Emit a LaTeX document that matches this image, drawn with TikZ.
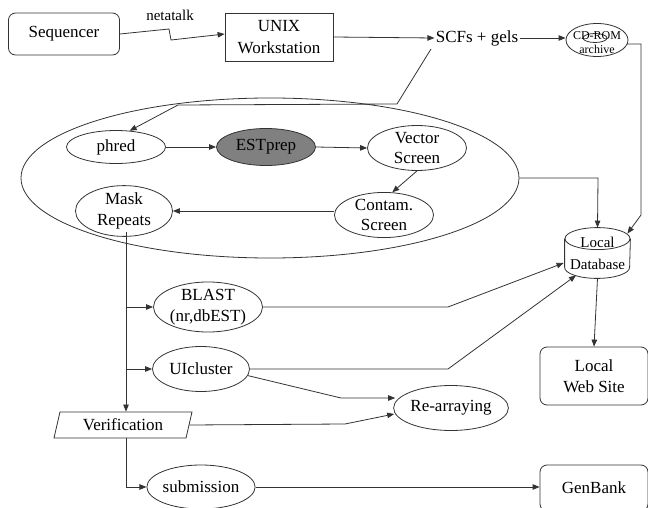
\documentclass[tikz,border=0pt]{standalone}
\usepackage{fontspec}
\setmainfont{Liberation Serif}
\usetikzlibrary{shapes.geometric,arrows.meta,calc}
\begin{document}
\begin{tikzpicture}[x=1pt,y=-1pt,
  font=\fontsize{17}{20.5}\selectfont,
  line width=0.8pt,
  color=black!80, text=black,
  box/.style={draw, rectangle, inner sep=0pt, align=center},
  rbox/.style={box, rounded corners=7pt},
  ell/.style={draw, ellipse, inner sep=0pt, align=center},
  arr/.style={-{Triangle[length=7pt,width=5.5pt]}},
  txt/.style={inner sep=1pt}
]
\useasboundingbox (0,0) rectangle (648,508);

% top row
\node[rbox, minimum width=111pt, minimum height=42pt] (seq) at (64,34) {Sequencer};
\node[box, minimum width=108pt, minimum height=48pt] (unix) at (279,37) {UNIX\\[1pt]Workstation};
\node[txt, font=\fontsize{15}{17}\selectfont] (nt) at (170,15) {netatalk};
\node[txt] (scf) at (477,38) {SCFs + gels};
\node[ell, minimum width=62pt, minimum height=33pt] (cd) at (597,40) {};
\draw (595,38) ellipse [x radius=12pt, y radius=4.5pt];
\node[inner sep=0pt, font=\fontsize{12}{13}\selectfont] (cdt) at (597,36) {CD-ROM};
\node[inner sep=0pt, font=\fontsize{12}{13}\selectfont] (cda) at (597,49) {archive};

% big ellipse and inner steps
\node[ell, minimum width=498pt, minimum height=160pt] (big) at (270,178) {};
\node[ell, minimum width=99pt, minimum height=33pt] (phred) at (116,147) {phred};
\node[ell, fill=black!50, minimum width=99pt, minimum height=37pt] (est) at (266,147) {ESTprep};
\node[ell, minimum width=99pt, minimum height=41pt] (vec) at (417,148) {Vector\\Screen};
\node[ell, minimum width=97pt, minimum height=42pt] (mask) at (124,211) {Mask\\Repeats};
\node[ell, minimum width=99pt, minimum height=40pt] (contam) at (384,215) {Contam.\\Screen};

% local database (cylinder)
\node[rectangle, inner sep=0pt, minimum width=65pt, minimum height=50pt] (db) at (597.5,253) {};
\draw ($(db.north west)+(0,11)$) -- ($(db.south west)+(0,-11)$)
      arc[start angle=180, end angle=360, x radius=32.5pt, y radius=11pt]
      -- ($(db.north east)+(0,11)$);
\draw ($(db.north)+(0,11)$) ellipse [x radius=32.5pt, y radius=11pt];
\node[txt, font=\fontsize{15}{17}\selectfont] (dbl) at (597.5,242) {Local};
\node[txt, font=\fontsize{15}{17}\selectfont] (dbd) at (597.5,264) {Database};

% lower steps
\node[ell, minimum width=109pt, minimum height=50pt] (blast) at (208,307) {BLAST\\(nr,dbEST)};
\node[ell, minimum width=97pt, minimum height=45pt] (uic) at (201,369) {UIcluster};
\node[ell, minimum width=97pt, minimum height=45pt] (rearr) at (451,408) {Re-arraying};
\node[rbox, minimum width=108pt, minimum height=58pt] (web) at (594,376) {Local\\Web Site};
\node[draw, trapezium, trapezium left angle=64, trapezium right angle=116,
      trapezium stretches body, minimum width=138pt, minimum height=26pt, inner sep=0pt]
      (ver) at (123,425) {Verification};
\node[ell, minimum width=97pt, minimum height=44pt] (sub) at (201,487) {submission};
\node[rbox, minimum width=108pt, minimum height=46pt] (gen) at (594,488) {GenBank};

% named bend points
\coordinate (t1) at (169,29);
\coordinate (t2) at (171,40);
\coordinate (c0) at (627,44);
\coordinate (c1) at (641,44);
\coordinate (c2) at (641,215);
\coordinate (s1) at (431,49);
\coordinate (s2) at (397,104);
\coordinate (s3) at (178,105);
\coordinate (e1) at (598,178);
\coordinate (trunk) at (126,232);
\coordinate (b1) at (448,307);
\coordinate (u1) at (448,369);
\coordinate (r1) at (341,398);
\coordinate (v1) at (345,424);

% connectors
\draw[arr] (seq.east) -- (t1) -- (t2) -- ($(unix.west)+(0,-3)$);
\draw[arr] (unix.east) -- (scf.west);
\draw[arr] (scf.east) -- (cd.west |- scf.east);
\draw[arr] (c0) -- (c1) -- (c2) -- ($(db.north east)+(-3,6)$);
\draw[arr] (s1) -- (s2) -- (s3) -- (phred.50);
\draw[arr] (phred.east) -- (est.west);
\draw[arr] (est.east) -- (vec.west);
\draw[arr] (vec.south) -- (contam.70);
\draw[arr] (contam.west |- mask.east) -- (mask.east);
\draw[arr] (big.east) -- (e1) -- (db.north);
\draw[arr] (db.south) -- (web.north);

\draw[arr] (trunk) -- (trunk |- ver.north);
\draw[arr] (trunk |- blast) -- (blast.west);
\draw[arr] (trunk |- uic) -- (uic.west);
\draw[arr] (trunk |- ver.south) -- (trunk |- sub) -- (sub.west);

\draw[arr] (blast.east) -- (b1) -- ($(db.west)+(-1,10)$);
\draw[arr] (uic.east) -- (u1) -- ($(db.south)+(-21.5,-3)$);
\draw[arr] (uic.-8) -- (r1) -- ($(rearr.west)+(2,-10)$);
\draw[arr] (ver.east) -- (v1) -- ($(rearr.west)+(1,6)$);
\draw[arr] (sub.east) -- (gen.west |- sub.east);
\end{tikzpicture}
\end{document}
